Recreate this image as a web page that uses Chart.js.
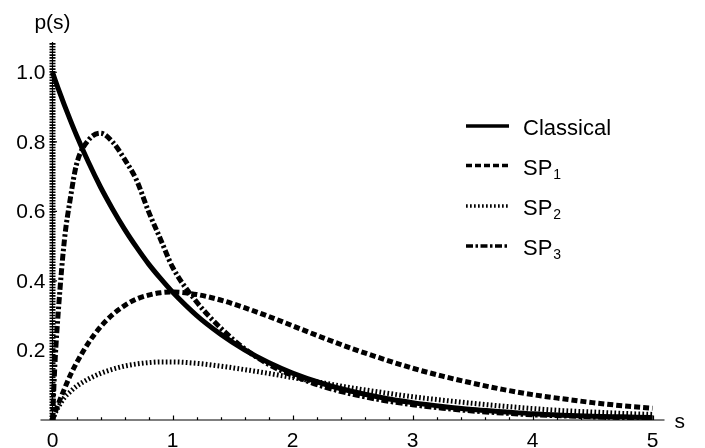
<!DOCTYPE html>
<html>
<head>
<meta charset="utf-8">
<script src="https://cdn.jsdelivr.net/npm/chart.js@4.4.1/dist/chart.umd.min.js"></script>
<style>
  html, body { margin: 0; padding: 0; background: #fff; }
  #wrap { width: 705px; height: 448px; }
</style>
</head>
<body>
<div id="wrap"><canvas id="chart" width="705" height="448"></canvas></div>
<script>
// values
const sValues = [0, 0.02, 0.05, 0.1, 0.15, 0.2, 0.3, 0.4, 0.5, 0.6, 0.7, 0.8, 0.9, 1.0, 1.2, 1.4, 1.6, 1.8, 2.0,
  2.25, 2.5, 2.75, 3.0, 3.25, 3.5, 3.75, 4.0, 4.25, 4.5, 4.75, 5.0];
const classical = [1.0, 0.98, 0.951, 0.905, 0.861, 0.819, 0.741, 0.670, 0.607, 0.549, 0.497, 0.449, 0.407, 0.368,
  0.301, 0.247, 0.202, 0.165, 0.135, 0.105, 0.082, 0.064, 0.050, 0.039, 0.030, 0.024, 0.018, 0.014, 0.011, 0.009, 0.007];
const sp1 = [0, 0.02, 0.048, 0.09, 0.13, 0.164, 0.222, 0.268, 0.303, 0.329, 0.348, 0.359, 0.366, 0.368,
  0.361, 0.345, 0.323, 0.298, 0.271, 0.237, 0.205, 0.176, 0.149, 0.126, 0.106, 0.088, 0.073, 0.061, 0.050, 0.041, 0.034];
const sp2 = [0, 0.018, 0.038, 0.065, 0.082, 0.097, 0.118, 0.134, 0.146, 0.155, 0.161, 0.165, 0.167, 0.167,
  0.163, 0.155, 0.145, 0.134, 0.122, 0.107, 0.092, 0.079, 0.067, 0.057, 0.048, 0.040, 0.033, 0.027, 0.023, 0.019, 0.016];
const sp3 = [0, 0.16, 0.32, 0.52, 0.64, 0.735, 0.805, 0.825, 0.80, 0.75, 0.69, 0.60, 0.52, 0.44,
  0.34, 0.265, 0.205, 0.16, 0.128, 0.097, 0.074, 0.057, 0.044, 0.034, 0.026, 0.020, 0.015, 0.012, 0.009, 0.007, 0.005];
// SP2 also has a spike at s = 0 that runs off the top of the plot
const sp2SpikeS = [0, 0];
const sp2SpikeP = [1.1, 0];

const xTickLabels = [0, 1, 2, 3, 4, 5];
const yTickLabels = [0.2, 0.4, 0.6, 0.8, 1.0];
const legendNames = ['Classical', 'SP', 'SP', 'SP'];
const legendSubs = ['', '1', '2', '3'];

const FONT = '"Liberation Sans", Arial, Helvetica, sans-serif';

function pts(xs, ys) {
  return xs.map((x, i) => ({ x: x, y: ys[i] }));
}

const styles = [
  { dash: [], width: 5 },
  { dash: [6, 3], width: 5 },
  { dash: [1.7, 2.3], width: 5 },
  { dash: [7, 2.5, 2.5, 2.5], width: 5 }
];

// axes, ticks, labels and legend drawn the Mathematica way
const mathAxes = {
  id: 'mathAxes',
  beforeDatasetsDraw(chart) {
    const ctx = chart.ctx;
    const x = chart.scales.x, y = chart.scales.y;
    const x0 = x.getPixelForValue(0), y0 = y.getPixelForValue(0);
    ctx.save();
    ctx.strokeStyle = '#000';
    ctx.lineWidth = 1.2;
    ctx.beginPath();
    ctx.moveTo(x.left, y0);
    ctx.lineTo(x.right, y0);
    ctx.moveTo(x0, y0);
    ctx.lineTo(x0, y.top);
    for (let i = 0; i <= 25; i++) {
      const px = Math.round(x.getPixelForValue(i * 0.2)) + 0.5;
      const len = i % 5 === 0 ? 4.5 : 2.8;
      ctx.moveTo(px, y0);
      ctx.lineTo(px, y0 - len);
    }
    for (let i = 1; i <= 5; i++) {
      const py = y.getPixelForValue(i * 0.2);
      ctx.moveTo(x0, py);
      ctx.lineTo(x0 + 4.5, py);
    }
    ctx.stroke();
    ctx.restore();
  },
  afterDraw(chart) {
    const ctx = chart.ctx;
    const x = chart.scales.x, y = chart.scales.y;
    const x0 = x.getPixelForValue(0), y0 = y.getPixelForValue(0);
    ctx.save();
    ctx.fillStyle = '#000';
    ctx.font = '21px ' + FONT;
    ctx.textBaseline = 'alphabetic';

    ctx.textAlign = 'center';
    xTickLabels.forEach(v => {
      ctx.fillText(String(v), x.getPixelForValue(v), y0 + 27);
    });
    ctx.textAlign = 'right';
    yTickLabels.forEach(v => {
      ctx.fillText(v.toFixed(1), x0 - 7, y.getPixelForValue(v) + 7);
    });
    ctx.textAlign = 'center';
    ctx.fillText('p(s)', x0, 29);
    ctx.textAlign = 'left';
    ctx.fillText('s', x.right + 10, y0 + 8);

    // legend
    const lx0 = 466, lx1 = 509, tx = 523;
    const baselines = [135, 174.5, 215, 255];
    legendNames.forEach((name, i) => {
      const by = baselines[i];
      const ly = by - 9;
      ctx.save();
      ctx.strokeStyle = '#000';
      ctx.lineWidth = 3.5;
      ctx.lineCap = 'butt';
      ctx.setLineDash(styles[i].dash);
      ctx.beginPath();
      ctx.moveTo(lx0, ly);
      ctx.lineTo(lx1, ly);
      ctx.stroke();
      ctx.restore();
      ctx.font = '22px ' + FONT;
      ctx.textAlign = 'left';
      ctx.fillText(name, tx, by);
      if (legendSubs[i]) {
        const w = ctx.measureText(name).width;
        ctx.font = '14px ' + FONT;
        ctx.fillText(legendSubs[i], tx + w + 1, by + 4);
      }
    });
    ctx.restore();
  }
};

function lineSet(label, data, st) {
  return {
    label: label,
    data: data,
    borderColor: '#000',
    borderWidth: st.width,
    borderDash: st.dash,
    borderCapStyle: 'butt',
    borderJoinStyle: 'round',
    pointRadius: 0,
    fill: false,
    cubicInterpolationMode: 'monotone'
  };
}

const datasets = [
  lineSet('Classical', pts(sValues, classical), styles[0]),
  lineSet('SP1', pts(sValues, sp1), styles[1]),
  lineSet('SP2', pts(sValues, sp2), styles[2]),
  lineSet('SP3', pts(sValues, sp3), styles[3]),
  Object.assign(lineSet('SP2 spike', pts(sp2SpikeS, sp2SpikeP), { dash: [1.6, 1.2], width: 6 }),
    { cubicInterpolationMode: 'default', tension: 0 })
];

new Chart(document.getElementById('chart'), {
  type: 'line',
  data: { datasets: datasets },
  options: {
    responsive: false,
    animation: false,
    devicePixelRatio: 1,
    layout: { padding: { left: 40.5, right: 40.5, top: 42, bottom: 28 } },
    plugins: { legend: { display: false }, tooltip: { enabled: false } },
    scales: {
      x: { type: 'linear', min: -0.1, max: 5.1, display: false },
      y: { type: 'linear', min: 0, max: 1.087, display: false }
    }
  },
  plugins: [mathAxes]
});
</script>
</body>
</html>
